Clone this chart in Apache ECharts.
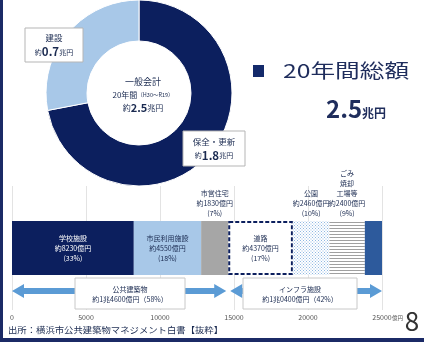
<!DOCTYPE html>
<html><head><meta charset="utf-8">
<script src="https://cdn.jsdelivr.net/npm/echarts@6/dist/echarts.min.js"></script>
<style>html,body{margin:0;padding:0;background:#fff}#c{width:424px;height:342px}</style>
</head><body><div id="c"></div>
<script>
// 一般会計 20年間の内訳（兆円）
const budgetNames = ['保全・更新', '建設'];
const budgetValues = [1.8, 0.7];
const budgetTotal = 2.5;

// 施設別の内訳（億円）
const facilityNames = ['学校施設', '市民利用施設', '市営住宅', '道路', '公園', 'ごみ\n焼却\n工場等', 'その他'];
const facilityValues = [8230, 4550, 1830, 4370, 2460, 2400, 1160];
const facilityShares = [33, 18, 7, 17, 10, 9, null];
const axisTicks = [0, 5000, 10000, 15000, 20000, 25000];

// 建築物とインフラの区分
const groupNames = ['公共建築物', 'インフラ施設'];
const groupAmounts = ['約1兆4600億円', '約1兆0400億円'];
const groupShares = [58, 42];
const groupSplit = 3; // 先頭3施設が建築物

const NAVY = '#0c1f5e';
const LIGHT = '#a8c8e8';
const FONT = '"Noto Sans CJK JP", sans-serif';

function dotPattern() {
  const c = document.createElement('canvas');
  c.width = 3; c.height = 3;
  const g = c.getContext('2d');
  g.fillStyle = '#ffffff'; g.fillRect(0, 0, 3, 3);
  g.fillStyle = '#8fb8e2'; g.fillRect(0, 0, 1, 1); g.fillRect(1.5, 1.5, 1, 1);
  return c;
}
function stripePattern() {
  const c = document.createElement('canvas');
  c.width = 4; c.height = 3;
  const g = c.getContext('2d');
  g.fillStyle = '#ffffff'; g.fillRect(0, 0, 4, 3);
  g.fillStyle = '#a0a0a0'; g.fillRect(0, 0, 4, 1);
  return c;
}

const segStyles = [
  { color: NAVY, text: '#ffffff', pos: 'inside' },
  { color: LIGHT, text: '#1a2a50', pos: 'inside' },
  { color: '#a6a6a6', text: '#1a2a50', pos: 'top' },
  { color: '#ffffff', text: '#1a2a50', pos: 'inside', border: NAVY },
  { color: { image: dotPattern(), repeat: 'repeat' }, text: '#1a2a50', pos: 'top' },
  { color: { image: stripePattern(), repeat: 'repeat' }, text: '#1a2a50', pos: 'top' },
  { color: '#2d5a9c', text: '#1a2a50', pos: null }
];

const barSeries = facilityValues.map((v, i) => {
  const st = segStyles[i];
  return {
    type: 'bar',
    name: facilityNames[i],
    stack: 'all',
    barWidth: 54,
    data: [v],
    silent: true,
    itemStyle: st.border
      ? { color: st.color, borderColor: st.border, borderWidth: 2, borderType: [4, 2] }
      : { color: st.color },
    label: {
      show: st.pos !== null,
      position: st.pos || 'inside',
      distance: 3,
      color: st.text,
      fontFamily: FONT,
      fontSize: 7,
      lineHeight: 10,
      align: 'center',
      formatter: () => facilityNames[i] + '\n約' + v + '億円\n(' + facilityShares[i] + '%)'
    }
  };
});

const chart = echarts.init(document.getElementById('c'), null, { renderer: 'canvas' });

const pieCenter = [139, 93];

chart.setOption({
  animation: false,
  textStyle: { fontFamily: FONT },
  grid: { left: 12, right: 42, top: 186, bottom: 32 },
  xAxis: {
    type: 'value', min: axisTicks[0], max: axisTicks[axisTicks.length - 1], interval: 5000,
    axisLine: { show: false }, axisTick: { show: false },
    splitLine: { show: true, lineStyle: { color: '#e3e3e3', width: 1 } },
    axisLabel: { fontSize: 7, color: '#555', margin: 4, fontFamily: FONT, formatter: v => String(v) }
  },
  yAxis: {
    type: 'category', data: ['施設'], show: false
  },
  series: [
    {
      type: 'pie',
      center: pieCenter,
      radius: [52, 93],
      startAngle: 90,
      clockwise: true,
      silent: true,
      z: 1,
      label: { show: false },
      labelLine: { show: false },
      itemStyle: { borderColor: '#ffffff', borderWidth: 1 },
      data: budgetValues.map((v, i) => ({
        name: budgetNames[i], value: v,
        itemStyle: { color: i === 0 ? NAVY : LIGHT }
      }))
    }
  ].concat(barSeries)
});

// 区分の矢印と注記は軸の座標から配置する
function px(v) { return chart.convertToPixel({ xAxisIndex: 0 }, v); }
const splitValue = facilityValues.slice(0, groupSplit).reduce((a, b) => a + b, 0);
const totalValue = facilityValues.reduce((a, b) => a + b, 0);

function arrow(x1, x2, y) {
  const h = 3, hw = 7, hl = 12;
  return {
    type: 'polygon', z: 100,
    shape: { points: [
      [x1, y], [x1 + hl, y - hw], [x1 + hl, y - h], [x2 - hl, y - h], [x2 - hl, y - hw],
      [x2, y], [x2 - hl, y + hw], [x2 - hl, y + h], [x1 + hl, y + h], [x1 + hl, y + hw]
    ] },
    style: { fill: '#5b9bd5' }
  };
}
function noteBox(cx, y, w, i) {
  return {
    type: 'group', z: 101,
    children: [
      { type: 'rect', z: 101, shape: { x: cx - w / 2, y: y, width: w, height: 31 },
        style: { fill: '#ffffff', stroke: '#c8c8c8', lineWidth: 1 } },
      { type: 'text', z: 102, x: cx, y: y + 16,
        style: { text: groupNames[i] + '\n' + groupAmounts[i] + '（' + groupShares[i] + '%）',
          fill: '#1a2a50', font: '7px ' + FONT, align: 'center', verticalAlign: 'middle', lineHeight: 10 } }
    ]
  };
}
function labelBox(x, y, w, h, name, value) {
  return {
    type: 'group', z: 101,
    children: [
      { type: 'rect', z: 101, shape: { x: x, y: y, width: w, height: h },
        style: { fill: '#ffffff', stroke: '#b5b5b5', lineWidth: 1 } },
      { type: 'text', z: 102, x: x + w / 2, y: y + h / 2,
        style: {
          text: '{n|' + name + '}\n{s|約}{b|' + value.toFixed(1) + '}{s|兆円}',
          align: 'center', verticalAlign: 'middle',
          rich: {
            n: { fontSize: 8.5, fontFamily: FONT, fill: '#1a2a50', lineHeight: 14, align: 'center' },
            s: { fontSize: 7, fontFamily: FONT, fill: '#1a2a50', lineHeight: 14 },
            b: { fontSize: 11.5, fontWeight: 'bold', fontFamily: FONT, fill: '#1a2a50', lineHeight: 14 }
          }
        } }
    ]
  };
}

const x0 = px(0), xs = px(splitValue), xe = px(totalValue);
const arrowY = 291;

chart.setOption({
  graphic: [
    // 枠
    { type: 'rect', z: 100, shape: { x: 0, y: 0, width: 3, height: 342 }, style: { fill: '#1b2a66' } },
    { type: 'rect', z: 100, shape: { x: 0, y: 338, width: 424, height: 4 }, style: { fill: '#1b2a66' } },
    // 円グラフの中央
    { type: 'text', z: 100, x: pieCenter[0] + 4, y: pieCenter[1] + 2,
      style: {
        text: '{a|一般会計}\n{c|20年間}{d|（H30～R19）}\n{c|約}{b|' + budgetTotal.toFixed(1) + '}{c|兆円}',
        align: 'center', verticalAlign: 'middle',
        rich: {
          a: { fontSize: 9, fontFamily: FONT, fill: '#1a2a50', lineHeight: 13, align: 'center' },
          c: { fontSize: 8, fontFamily: FONT, fill: '#1a2a50', lineHeight: 13 },
          d: { fontSize: 5.5, fontFamily: FONT, fill: '#1a2a50', lineHeight: 13 },
          b: { fontSize: 11, fontWeight: 'bold', fontFamily: FONT, fill: '#1a2a50', lineHeight: 13 }
        }
      } },
    labelBox(25, 28, 58, 34, budgetNames[1], budgetValues[1]),
    labelBox(183, 131, 62, 35, budgetNames[0], budgetValues[0]),
    // 見出し
    { type: 'rect', z: 100, shape: { x: 253, y: 65, width: 11, height: 12 }, style: { fill: '#142a6b' } },
    { type: 'text', z: 100, x: 283, y: 71, scaleX: 1.3,
      style: { text: '20年間総額', fill: '#1f2d5c', font: '19px ' + FONT, verticalAlign: 'middle' } },
    { type: 'text', z: 100, x: 326, y: 109,
      style: {
        text: '{b|' + budgetTotal.toFixed(1) + '}{s|兆円}', verticalAlign: 'middle',
        rich: {
          b: { fontSize: 24, fontWeight: 'bold', fontFamily: FONT, fill: '#1f2d5c' },
          s: { fontSize: 12, fontWeight: 'bold', fontFamily: FONT, fill: '#1f2d5c', padding: [8, 0, 0, 0] }
        }
      } },
    // 区分の矢印
    arrow(x0, xs - 2, arrowY),
    arrow(xs + 2, xe, arrowY),
    noteBox(130, 278, 110, 0),
    noteBox(300, 278, 114, 1),
    // 単位・出所・ページ
    { type: 'text', z: 100, x: 392, y: 318, style: { text: '億円', fill: '#555', font: '5.5px ' + FONT, verticalAlign: 'middle' } },
    { type: 'text', z: 100, x: 8, y: 330, scaleX: 1.1,
      style: { text: '出所：横浜市公共建築物マネジメント白書【抜粋】', fill: '#1a2a50', font: '8.5px ' + FONT, verticalAlign: 'middle' } },
    { type: 'text', z: 100, x: 412, y: 321, style: { text: '8', fill: '#333', font: '26px ' + FONT, align: 'center', verticalAlign: 'middle' } }
  ]
});
</script></body></html>
